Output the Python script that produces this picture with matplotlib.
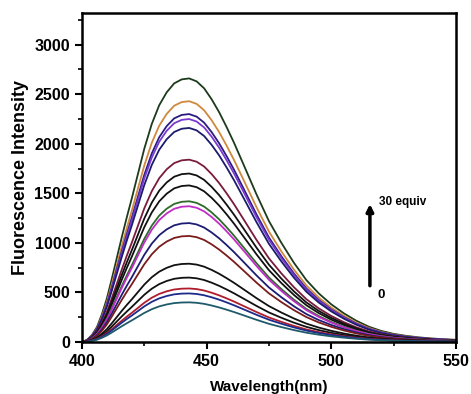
import numpy as np
import matplotlib
matplotlib.use("Agg")
import matplotlib.pyplot as plt
from matplotlib.ticker import MultipleLocator

plt.rcParams['font.family'] = ['Liberation Sans', 'DejaVu Sans']
plt.rcParams['font.weight'] = 'bold'

wavelength = [400, 402, 404, 406, 408, 410, 412, 414, 416, 418, 420, 422, 425,
              428, 431, 434, 437, 440, 443, 446, 449, 452, 455, 458, 461, 465,
              470, 475, 480, 485, 490, 495, 500, 505, 510, 515, 520, 525, 530,
              535, 540, 545, 550]
profile = [0, 20, 70, 150, 280, 440, 640, 850, 1060, 1260, 1450, 1650, 1950,
           2200, 2390, 2520, 2610, 2650, 2660, 2630, 2560, 2450, 2320, 2170,
           2010, 1780, 1490, 1220, 1000, 800, 625, 490, 380, 290, 215, 155,
           112, 82, 62, 47, 36, 28, 22]

# intensidad máxima de cada espectro (30 equiv -> 0, de arriba a abajo)
peaks = [2660, 2430, 2300, 2250, 2160, 1840, 1700, 1580, 1420, 1370,
         1200, 1070, 790, 650, 540, 490, 400]
colors = ['#1c3a1c', '#d0883c', '#2c1c80', '#7a3ad0', '#1c1c6e', '#7a1a3c',
          '#111111', '#111111', '#2e6a2a', '#c02cc8', '#1c1c72', '#7a1c1c',
          '#111111', '#111111', '#b01c2c', '#1c2a8a', '#1f5a6a']

wl = np.array(wavelength)
shape = np.array(profile) / max(profile)

fig = plt.figure(figsize=(4.71, 3.94), dpi=100)
ax = fig.add_axes([0.174, 0.132, 0.794, 0.835])

for pk, c in zip(peaks, colors):
    ax.plot(wl, shape * pk, color=c, lw=1.3)

ax.set_xlim(400, 550)
ax.set_ylim(0, 3320)
ax.xaxis.set_major_locator(MultipleLocator(50))
ax.xaxis.set_minor_locator(MultipleLocator(25))
ax.yaxis.set_major_locator(MultipleLocator(500))
ax.yaxis.set_minor_locator(MultipleLocator(250))
ax.tick_params(which='major', direction='out', length=5, width=1.5, labelsize=11.5)
ax.tick_params(which='minor', direction='out', length=3, width=1.2)
for lab in ax.get_xticklabels() + ax.get_yticklabels():
    lab.set_fontweight('bold')
for s in ax.spines.values():
    s.set_linewidth(1.8)

ax.set_xlabel('Wavelength(nm)', fontsize=11, fontweight='bold', labelpad=8)
ax.set_ylabel('Fluorescence Intensity', fontsize=13, fontweight='bold')

ax.annotate('', xy=(515.5, 1420), xytext=(515.5, 540),
            arrowprops=dict(arrowstyle='-|>', color='black', lw=2.5,
                            mutation_scale=10))
ax.text(519, 1410, '30 equiv', fontsize=8.5, fontweight='bold', va='center')
ax.text(518.5, 470, '0', fontsize=9.5, fontweight='bold', va='center')

fig.savefig('out.png', dpi=100)
